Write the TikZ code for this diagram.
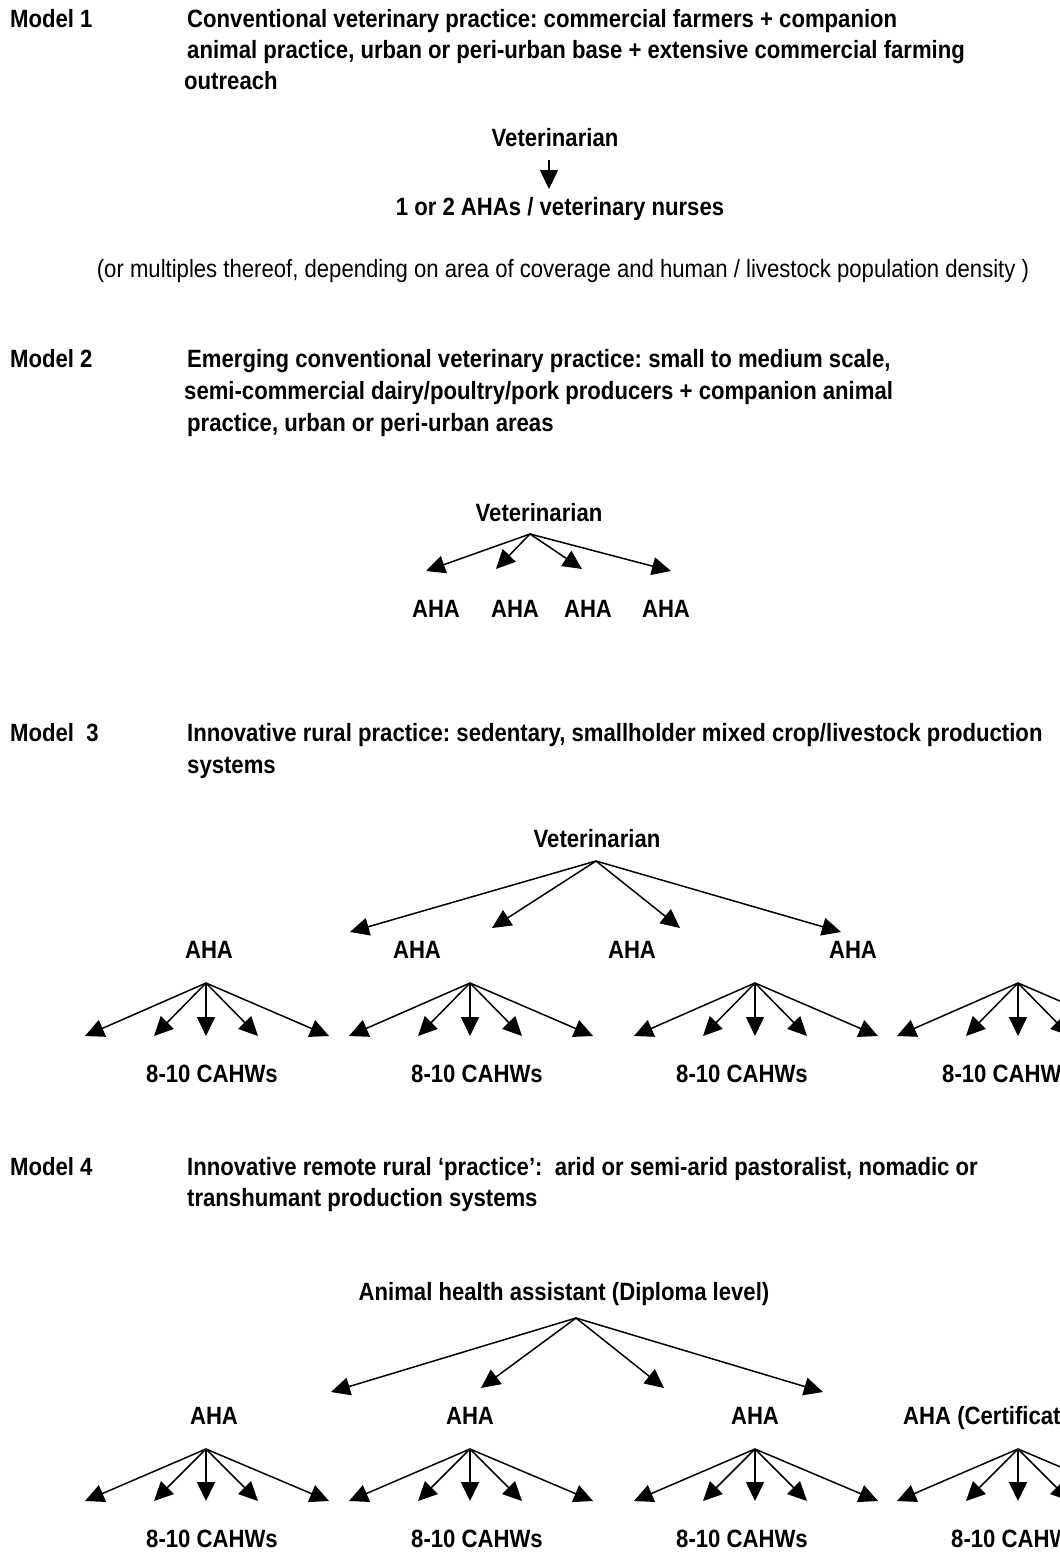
\documentclass[tikz,border=0pt]{standalone}
\usepackage{fontspec}
\setmainfont{Liberation Sans}[FakeStretch=0.885]
\usetikzlibrary{arrows.meta}
\frenchspacing
\begin{document}
\begin{tikzpicture}[x=1pt,y=-1pt,
  txt/.style={font=\fontsize{25}{30}\selectfont\bfseries, inner sep=0pt},
  lbl/.style={txt, anchor=base west},
  ctr/.style={txt, anchor=base},
  arr/.style={line width=1.5pt, -{Triangle[length=19pt,width=18pt]}}]
\useasboundingbox[fill=white] (0,0) rectangle (1060,1553);

% ---------------- Model 1
\node[lbl] (m1) at (10,27) {Model 1};
\node[lbl] (m1a) at (187,27) {Conventional veterinary practice: commercial farmers + companion};
\node[lbl] (m1b) at (187,58) {animal practice, urban or peri-urban base + extensive commercial farming};
\node[lbl] (m1c) at (184,89) {outreach};
\node[ctr] (v1) at (555,146) {Veterinarian};
\node[ctr] (n1) at (560,215) {1 or 2 AHAs / veterinary nurses};
\coordinate (v1s) at (549,160);
\coordinate (v1t) at (549,189);
\draw[arr] (v1s) -- (v1t);
\node[txt, font=\fontsize{25}{30}\selectfont, anchor=base] (note) at (563,277) {(or multiples thereof, depending on area of coverage and human / livestock population density )};

% ---------------- Model 2
\node[lbl] (m2) at (10,367) {Model 2};
\node[lbl] (m2a) at (187,367) {Emerging conventional veterinary practice: small to medium scale,};
\node[lbl] (m2b) at (184,399) {semi-commercial dairy/poultry/pork producers + companion animal};
\node[lbl] (m2c) at (187,431) {practice, urban or peri-urban areas};
\node[ctr] (v2) at (539,521) {Veterinarian};
\coordinate (v2s) at (530,534);
\foreach \x/\y/\lx [count=\i] in {426/571/436, 496/569/515, 582/569/588, 671/571/666}{
  \coordinate (t2\i) at (\x,\y);
  \draw[arr] (v2s) -- (t2\i);
  \node[ctr] (a2\i) at (\lx,617) {AHA};
}

% ---------------- Model 3
\node[lbl] (m3) at (10,741) {Model\ \ 3};
\node[lbl] (m3a) at (187,741) {Innovative rural practice: sedentary, smallholder mixed crop/livestock production};
\node[lbl] (m3b) at (187,773) {systems};
\node[ctr] (v3) at (597,847) {Veterinarian};
\coordinate (v3s) at (596,861);
\foreach \x/\y [count=\i] in {350/932, 492/928, 680/928, 841/932}{
  \coordinate (t3\i) at (\x,\y);
  \draw[arr] (v3s) -- (t3\i);
}
\foreach \lx [count=\i] in {209,417,632,853}{
  \node[ctr] (a3\i) at (\lx,958) {AHA};
}
\foreach \gx [count=\g] in {206,470,755,1018}{
  \coordinate (g3\g) at (\gx,983);
  \foreach \dx [count=\k] in {-121,-52,0,52,123}{
    \coordinate (g3\g t\k) at (\gx+\dx,1036);
    \draw[arr] (g3\g) -- (g3\g t\k);
  }
}
\foreach \lx [count=\i] in {212,477,742,1008}{
  \node[ctr] (c3\i) at (\lx,1082) {8-10 CAHWs};
}

% ---------------- Model 4
\node[lbl] (m4) at (10,1175) {Model 4};
\node[lbl] (m4a) at (187,1175) {Innovative remote rural ‘practice’:\ \ arid or semi-arid pastoralist, nomadic or};
\node[lbl] (m4b) at (187,1206) {transhumant production systems};
\node[ctr] (v4) at (564,1300) {Animal health assistant (Diploma level)};
\coordinate (v4s) at (576,1318);
\foreach \x/\y [count=\i] in {331/1392, 481/1388, 664/1388, 823/1392}{
  \coordinate (t4\i) at (\x,\y);
  \draw[arr] (v4s) -- (t4\i);
}
\foreach \lx [count=\i] in {214,470,755}{
  \node[ctr] (a4\i) at (\lx,1424) {AHA};
}
\node[lbl] (a44) at (903,1424) {AHA (Certificate level)};
\foreach \gx [count=\g] in {206,470,755,1018}{
  \coordinate (g4\g) at (\gx,1449);
  \foreach \dx [count=\k] in {-121,-52,0,52,123}{
    \coordinate (g4\g t\k) at (\gx+\dx,1501);
    \draw[arr] (g4\g) -- (g4\g t\k);
  }
}
\foreach \lx [count=\i] in {212,477,742,1017}{
  \node[ctr] (c4\i) at (\lx,1547) {8-10 CAHWs};
}
\end{tikzpicture}
\end{document}
